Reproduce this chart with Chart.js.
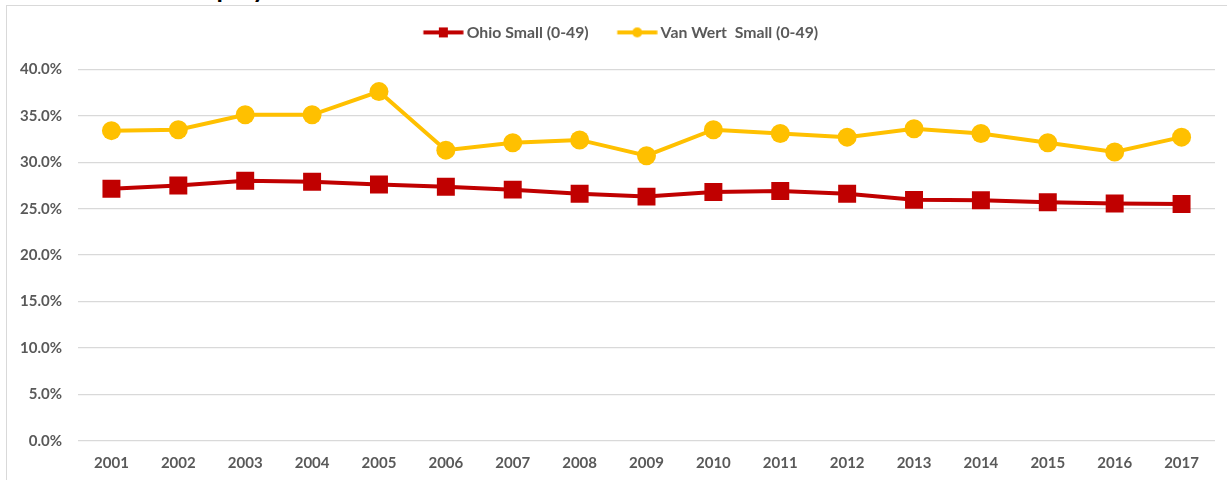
<!DOCTYPE html>
<html>
<head>
<meta charset="utf-8">
<script src="https://cdn.jsdelivr.net/npm/chart.js@4/dist/chart.umd.min.js"></script>
<style>
  html, body { margin: 0; padding: 0; background: #fff; overflow: hidden; }
  body { width: 1227px; height: 480px; position: relative; }
  .frame { position: absolute; left: 6px; top: 5px; width: 1260px; height: 520px; border: 1px solid #d9d9d9; }
  .title { position: absolute; left: 180px; top: -25px; font: bold 26px Lato, sans-serif; line-height: 26px; color: #000; white-space: nowrap; }
  .wrap { position: absolute; left: 8px; top: 6px; width: 1231px; height: 490px; }
</style>
</head>
<body>
<div class="title">Employment</div>
<div class="frame"></div>
<div class="wrap"><canvas id="chart"></canvas></div>
<script>
// ──────────────── 数据 ────────────────
const years = ['2001','2002','2003','2004','2005','2006','2007','2008','2009','2010','2011','2012','2013','2014','2015','2016','2017'];
const ohioSmall = [27.15, 27.5, 28.0, 27.9, 27.6, 27.35, 27.05, 26.6, 26.3, 26.8, 26.9, 26.6, 25.95, 25.9, 25.7, 25.55, 25.5];
const vanWertSmall = [33.4, 33.5, 35.1, 35.1, 37.6, 31.3, 32.1, 32.4, 30.7, 33.5, 33.1, 32.7, 33.6, 33.1, 32.1, 31.1, 32.7];
const yTicks = [0, 5, 10, 15, 20, 25, 30, 35, 40];

const RED = '#C00000', GOLD = '#FFC000', TXT = '#595959', GRID = '#d9d9d9';
const FONT = { family: 'Lato, sans-serif', size: 15, weight: 'bold' };
const LEGEND_FONT = { family: 'Lato, sans-serif', size: 15.8, weight: 'bold' };
const BOX_W = 54;

// 图例图标：线 + 标记（画在框的右侧，紧贴文字）
function legendIcon(color, shape) {
  const c = document.createElement('canvas');
  c.width = BOX_W + 10; c.height = 14;
  const g = c.getContext('2d');
  const x1 = c.width - 0.5, x0 = x1 - 40, mid = (x0 + x1) / 2;
  g.strokeStyle = color; g.lineWidth = 4;
  g.beginPath(); g.moveTo(x0, 7); g.lineTo(x1, 7); g.stroke();
  g.fillStyle = color;
  if (shape === 'rect') g.fillRect(mid - 4.5, 2, 9, 10);
  else { g.beginPath(); g.arc(mid, 7, 5, 0, Math.PI * 2); g.fill(); }
  return c;
}
const icons = [legendIcon(RED, 'rect'), legendIcon(GOLD, 'circle')];

// 图例下方留白
const legendGap = {
  id: 'legendGap',
  beforeInit(chart) {
    const fit = chart.legend.fit;
    chart.legend.fit = function () { fit.bind(chart.legend)(); this.height += 19; };
  }
};

new Chart(document.getElementById('chart'), {
  type: 'line',
  data: {
    labels: years,
    datasets: [
      { label: 'Ohio Small (0-49)', data: ohioSmall, borderColor: RED, backgroundColor: RED, borderWidth: 4,
        pointStyle: 'rect', pointRadius: 12.7, pointBorderWidth: 0, pointBackgroundColor: RED, tension: 0 },
      { label: 'Van Wert  Small (0-49)', data: vanWertSmall, borderColor: GOLD, backgroundColor: GOLD, borderWidth: 4,
        pointStyle: 'circle', pointRadius: 9.5, pointBorderWidth: 0, pointBackgroundColor: GOLD, tension: 0 }
    ]
  },
  options: {
    responsive: true,
    maintainAspectRatio: false,
    animation: false,
    layout: { padding: { top: 8.5, right: 24, bottom: 11, left: 0 } },
    plugins: {
      legend: {
        position: 'top',
        labels: {
          font: LEGEND_FONT, color: TXT, usePointStyle: true, pointStyleWidth: BOX_W, padding: 10,
          generateLabels(chart) {
            const items = Chart.defaults.plugins.legend.labels.generateLabels(chart);
            items.forEach((it, i) => { it.pointStyle = icons[i]; });
            return items;
          }
        }
      },
      tooltip: { enabled: false }
    },
    scales: {
      x: {
        offset: true,
        grid: { display: false, drawTicks: false },
        border: { display: false },
        ticks: { font: FONT, color: TXT, padding: 13, maxRotation: 0 }
      },
      y: {
        min: 0, max: 40,
        afterBuildTicks(scale) { scale.ticks = yTicks.map(v => ({ value: v })); },
        afterFit(scale) { scale.width = 70; },
        grid: { color: GRID, lineWidth: 1.3, drawTicks: false },
        border: { display: false },
        ticks: { font: FONT, color: TXT, padding: 16, callback: v => v.toFixed(1) + '%' }
      }
    }
  },
  plugins: [legendGap]
});
</script>
</body>
</html>
